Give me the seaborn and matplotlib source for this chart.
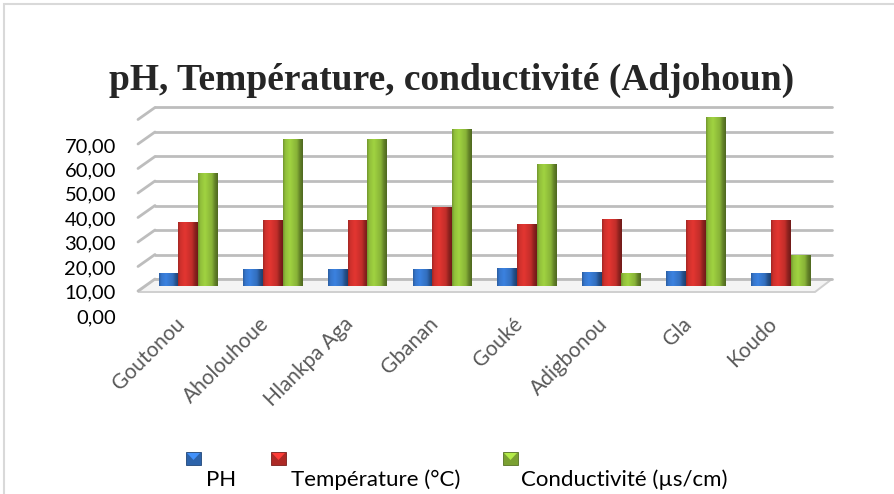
import numpy as np
import pandas as pd
import seaborn as sns
import matplotlib
matplotlib.use("Agg")
import matplotlib.pyplot as plt
from matplotlib.patches import Rectangle, Polygon
from matplotlib.lines import Line2D
from matplotlib.transforms import ScaledTranslation, IdentityTransform, blended_transform_factory

# ---- data ----
sites = ["Goutonou", "Aholouhoue", "Hlankpa Aga", "Gbanan", "Gouké",
         "Adigbonou", "Gla", "Koudo"]
series = ["PH", "Température (°C)", "Conductivité (µs/cm)"]
ph = [5.3, 6.9, 6.9, 6.9, 7.3, 5.7, 6.1, 5.3]
temperature = [26.1, 26.9, 26.9, 32.2, 25.3, 27.3, 26.9, 26.9]
conductivity = [46.1, 60.0, 60.0, 64.1, 49.8, 5.3, 69.0, 12.7]
y_ticks = [0, 10, 20, 30, 40, 50, 60, 70]
y_tick_labels = ["0,00", "10,00", "20,00", "30,00", "40,00", "50,00", "60,00", "70,00"]
title = "pH, Température, conductivité (Adjohoun)"

colors = ["#3574C8", "#CB302C", "#8FBC3A"]

df = pd.DataFrame({
    "site": sites * 3,
    "serie": [series[0]] * 8 + [series[1]] * 8 + [series[2]] * 8,
    "valeur": ph + temperature + conductivity,
})

W, H, DPI = 895, 494, 100
sns.set_theme(style="white")
plt.rcParams["font.family"] = ["Lato", "DejaVu Sans"]

fig = plt.figure(figsize=(W / DPI, H / DPI), dpi=DPI)
fig.patch.set_facecolor("white")


def box(x0, y0, w, h):
    """pixel box (top-left origin) -> figure fraction rect"""
    return [x0 / W, 1 - (y0 + h) / H, w / W, h / H]


# chart area border
fig.add_artist(Rectangle((4 / W, -0.05), 1.1, 1 - 4 / H + 0.05,
                         transform=fig.transFigure, fill=False,
                         edgecolor="#D9D9D9", lw=1.5))

# main plotting area
ax = fig.add_axes(box(146, 102.25, 677, 193.55))
ax.set_facecolor("none")

sns.barplot(data=df, x="site", y="valeur", hue="serie", palette=colors,
            width=0.7, linewidth=0, saturation=1, legend=False, ax=ax,
            zorder=3)

ax.set_xlim(-0.5, 7.5)
ax.set_ylim(-4, 75)

# cylindrical shading across each bar
def shade(base):
    rgb = np.array(matplotlib.colors.to_rgb(base))
    t = np.linspace(0, 1, 64)
    f = np.interp(t, [0, 0.12, 0.35, 0.7, 0.85, 1.0], [0.8, 1.02, 1.12, 0.95, 0.7, 0.55])
    img = np.clip(rgb[None, :] * f[:, None], 0, 1)
    return img[None, :, :]

for patch in ax.patches:
    if patch.get_height() <= 0:
        continue
    fc = patch.get_facecolor()
    x0, w = patch.get_x(), patch.get_width()
    h = patch.get_height()
    im = ax.imshow(shade(fc), extent=[x0, x0 + w, 0, h], aspect="auto",
                   zorder=3.5, interpolation="bilinear")
    im.set_clip_path(patch)

ax.set_xlim(-0.5, 7.5)
ax.set_ylim(-4, 75)

# back wall gridlines (shifted back in depth)
back = blended_transform_factory(ax.transAxes, ax.transData) + \
    ScaledTranslation(9 / DPI, 7 / DPI, fig.dpi_scale_trans)
for v in y_ticks:
    ax.plot([0, 1], [v, v], transform=back, color="#BDBDBD", lw=2.0,
            zorder=1, clip_on=False, solid_capstyle="round")

# depth stubs on the left wall and the floor, built in display space
fig.canvas.draw()
for v in y_ticks:
    px, py = ax.transData.transform((-0.5, v))
    ax.add_line(Line2D([px + 9, px - 8], [py + 7, py - 5],
                       transform=IdentityTransform(), color="#BDBDBD",
                       lw=2.0, zorder=1, clip_on=False,
                       solid_capstyle="round"))

lx, ly = ax.transData.transform((-0.5, 0))
rx, _ = ax.transData.transform((7.5, 0))
floor = Polygon([[lx + 9, ly + 7], [rx + 9, ly + 7], [rx - 8, ly - 6], [lx - 8, ly - 6]],
                closed=True, transform=IdentityTransform(), facecolor="#F4F4F4",
                edgecolor="#CFCFCF", lw=1.4, zorder=0.8, clip_on=False)
ax.add_patch(floor)
ax.set_xlim(-0.5, 7.5)
ax.set_ylim(-4, 75)

ax.set_yticks([])
ax.set_xticks(range(len(sites)))
ax.set_xticklabels(sites, rotation=45, ha="right", va="top",
                   fontsize=15, color="#595959")
ax.tick_params(axis="x", length=0, pad=13)
ax.set_xlabel("")
ax.set_ylabel("")
for s in ax.spines.values():
    s.set_visible(False)

# value axis labels on the front edge
lab = fig.add_axes(box(146, 100, 677, 230))
lab.set_facecolor("none")
lab.set_ylim(-5.73, 88.41)
lab.set_xlim(0, 1)
lab.set_xticks([])
lab.set_yticks(y_ticks)
lab.set_yticklabels(y_tick_labels, fontsize=14.5, color="black")
lab.tick_params(axis="y", length=0, pad=21.6)
for s in lab.spines.values():
    s.set_visible(False)

# title
fig.text(452 / W, 1 - 80 / H, title, ha="center", va="center",
         fontsize=27, fontweight="bold", family="Liberation Serif")

# legend: small bevelled keys above their labels
keys_x = [186, 271, 503]
text_x = [206, 291, 521]
for kx, tx, col, name in zip(keys_x, text_x, colors, series):
    rgb = np.array(matplotlib.colors.to_rgb(col))
    fig.add_artist(Rectangle((kx / W, 1 - 465 / H), 15 / W, 13 / H,
                             transform=fig.transFigure,
                             facecolor=np.clip(rgb * 0.85, 0, 1),
                             edgecolor=np.clip(rgb * 0.6, 0, 1), lw=0.6))
    fig.add_artist(Polygon([[(kx + 1) / W, 1 - 453 / H], [(kx + 14) / W, 1 - 453 / H],
                            [(kx + 7.5) / W, 1 - 460 / H]],
                           transform=fig.transFigure,
                           facecolor=np.clip(rgb * 1.25, 0, 1), lw=0))
    fig.text(tx / W, 1 - 480 / H, name, ha="left", va="center",
             fontsize=16, color="black")

fig.savefig("out.png", dpi=DPI, facecolor="white")
